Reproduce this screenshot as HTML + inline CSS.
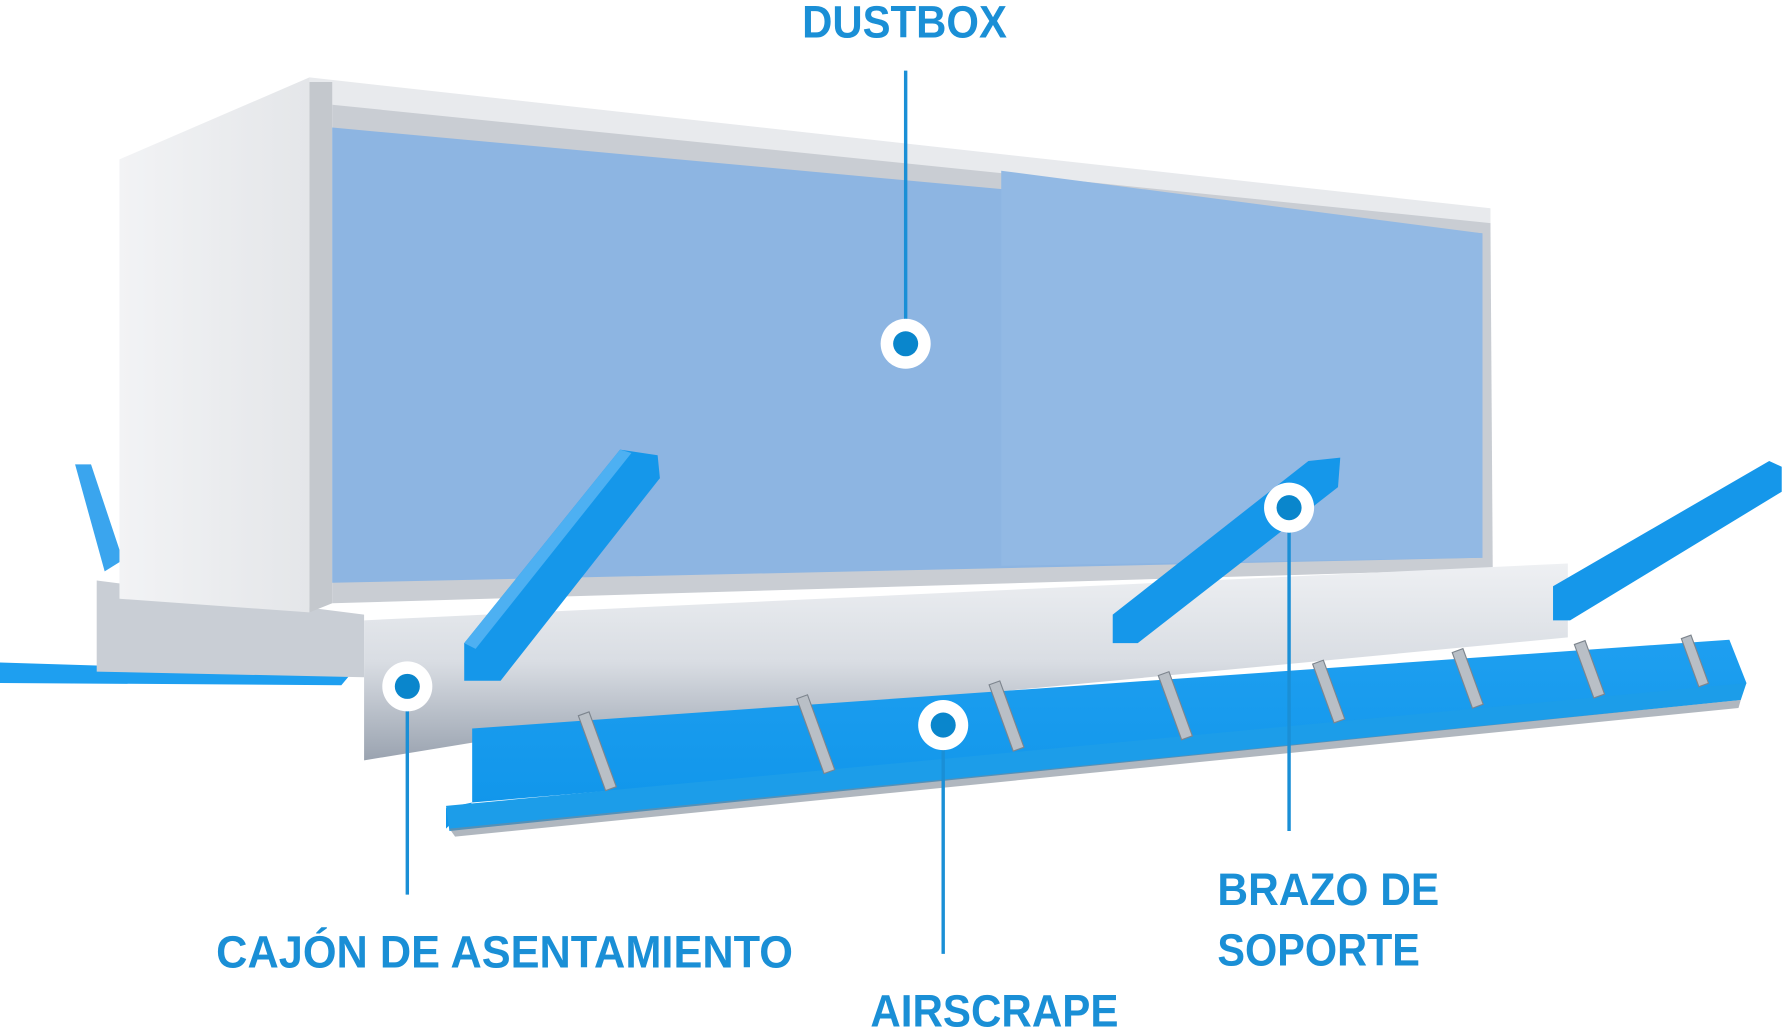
<!DOCTYPE html>
<html><head><meta charset="utf-8"><style>
html,body{margin:0;padding:0;background:#fff;}
svg{display:block;}
text{font-family:"Liberation Sans",sans-serif;fill:#1a8fd6;font-size:40px;font-weight:bold;}
</style></head><body>
<svg width="1784" height="1029" viewBox="0 0 1568 904" preserveAspectRatio="none" xmlns="http://www.w3.org/2000/svg">
<defs>
<linearGradient id="plate" x1="0" y1="0" x2="0" y2="1">
<stop offset="0" stop-color="#eef0f3"/><stop offset="0.5" stop-color="#d9dde3"/><stop offset="1" stop-color="#9aa3b0"/></linearGradient>
<linearGradient id="side" x1="0" y1="0" x2="1" y2="0">
<stop offset="0" stop-color="#f2f3f5"/><stop offset="1" stop-color="#e4e6e9"/></linearGradient>
<linearGradient id="blue" x1="0" y1="0" x2="0" y2="1">
<stop offset="0" stop-color="#1e9ff0"/><stop offset="1" stop-color="#0f95ea"/></linearGradient>
</defs>
<polygon points="66,408 80,408 108,492 92,502" fill="#3aa5ee"/>
<polygon points="0,582 95,585 310,590 300,602 0,600" fill="#1e9ff0"/>
<polygon points="85,510 320,540 320,595 85,590" fill="#c9ced5"/>
<polygon points="105,140 272,68 272,538 105,526" fill="url(#side)"/>
<polygon points="272,68 1310,183 1310,200 290,92 272,92" fill="#e8eaed"/>
<polygon points="272,72 292,72 292,530 272,538" fill="#c4c8cd"/>
<polygon points="292,92 1310,196 1312,500 292,530" fill="#c9cdd3"/>
<polygon points="292,112 1303,205 1303,490 292,512" fill="#8db5e2"/>
<polygon points="880,150 1303,205 1303,490 880,497" fill="#92b9e4"/>
<polygon points="320,545 1378,495 1378,560 430,650 320,668" fill="url(#plate)"/>
<polygon points="408,565 545,395 578,400 580,420 440,598 408,598" fill="#1597ea"/>
<polygon points="408,565 545,395 555,398 418,570" fill="#4db0f2"/>
<polygon points="978,540 1150,405 1178,402 1176,428 1000,565 978,565" fill="#1597ea"/>
<polygon points="1365,515 1555,405 1566,410 1566,432 1380,545 1365,545" fill="#1597ea"/>
<polygon points="415,640 1520,562 1535,600 1530,610 415,705 392,710 392,728 415,705" fill="url(#blue)"/>
<polygon points="392,708 1535,600 1530,615 395,730" fill="#1c9de9"/>
<polygon points="395,728 1530,615 1528,622 400,735" fill="#7c8794" opacity="0.6"/>
<g fill="#b9bfc6" stroke="#7d858e" stroke-width="1">
<rect x="520" y="625" width="10" height="70" transform="rotate(-20 525 660)"/>
<rect x="712" y="610" width="10" height="70" transform="rotate(-20 717 645)"/>
<rect x="880" y="598" width="10" height="62" transform="rotate(-20 885 630)"/>
<rect x="1028" y="590" width="10" height="60" transform="rotate(-20 1033 620)"/>
<rect x="1163" y="580" width="10" height="55" transform="rotate(-20 1168 608)"/>
<rect x="1285" y="570" width="10" height="52" transform="rotate(-20 1290 596)"/>
<rect x="1392" y="563" width="10" height="50" transform="rotate(-20 1397 588)"/>
<rect x="1485" y="558" width="9" height="45" transform="rotate(-20 1490 580)"/>
</g>
<g stroke="#1a8fd6" stroke-width="3">
<line x1="796" y1="62" x2="796" y2="282"/>
<line x1="358" y1="622" x2="358" y2="786"/>
<line x1="829" y1="656" x2="829" y2="838"/>
<line x1="1133" y1="466" x2="1133" y2="730"/>
</g>
<g>
<circle cx="796" cy="302" r="22" fill="#fff"/><circle cx="796" cy="302" r="11" fill="#0a86cc"/>
<circle cx="358" cy="603" r="22" fill="#fff"/><circle cx="358" cy="603" r="11" fill="#0a86cc"/>
<circle cx="829" cy="637" r="22" fill="#fff"/><circle cx="829" cy="637" r="11" fill="#0a86cc"/>
<circle cx="1133" cy="446" r="22" fill="#fff"/><circle cx="1133" cy="446" r="11" fill="#0a86cc"/>
</g>
<text x="705" y="33" textLength="180" lengthAdjust="spacingAndGlyphs">DUSTBOX</text>
<text x="190" y="850" textLength="507" lengthAdjust="spacingAndGlyphs">CAJÓN DE ASENTAMIENTO</text>
<text x="765" y="902" textLength="218" lengthAdjust="spacingAndGlyphs">AIRSCRAPE</text>
<text x="1070" y="795" textLength="195" lengthAdjust="spacingAndGlyphs">BRAZO DE</text>
<text x="1070" y="848" textLength="178" lengthAdjust="spacingAndGlyphs">SOPORTE</text>
</svg>
</body></html>
